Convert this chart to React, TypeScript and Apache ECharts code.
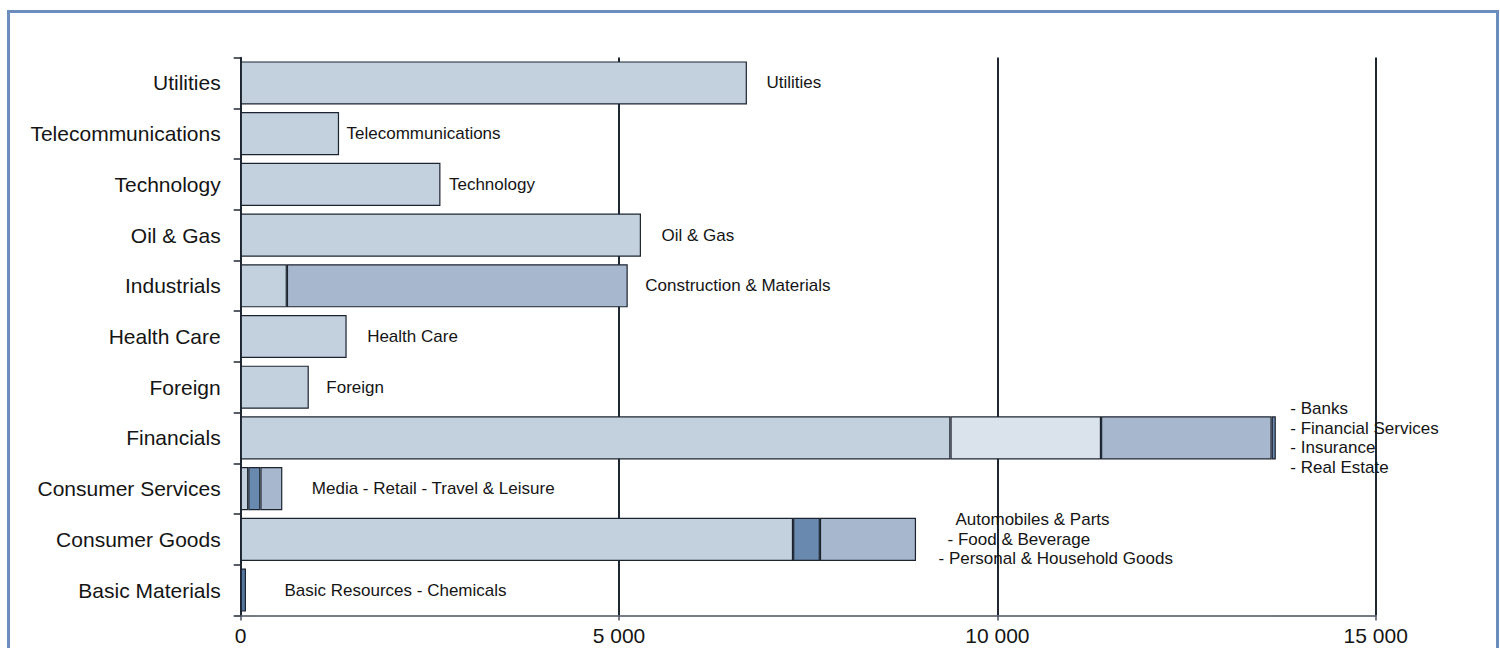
import React, { useEffect, useRef } from "react";
import * as echarts from "echarts";

// Categories, bottom to top (ECharts category y axis runs upward)
const categories = [
  "Basic Materials",
  "Consumer Goods",
  "Consumer Services",
  "Financials",
  "Foreign",
  "Health Care",
  "Industrials",
  "Oil & Gas",
  "Technology",
  "Telecommunications",
  "Utilities",
];

// Stacked segment values (left to right within each bar)
const segment1 = [70, 7300, 100, 9380, 900, 1400, 610, 5290, 2640, 1300, 6690];
const segment2 = [null, 355, 160, 1990, null, null, 4505, null, null, null, null];
const segment3 = [null, 1270, 290, 2255, null, null, null, null, null, null, null];
const segment4 = [null, null, null, 55, null, null, null, null, null, null, null];

// Sub-sector annotations shown to the right of each bar
const subSectorNotes = [
  "Basic Resources - Chemicals",
  "Automobiles & Parts\n- Food & Beverage\n- Personal & Household Goods",
  "Media - Retail - Travel & Leisure",
  "- Banks\n- Financial Services\n- Insurance\n- Real Estate",
  "Foreign",
  "Health Care",
  "Construction & Materials",
  "Oil & Gas",
  "Technology",
  "Telecommunications",
  "Utilities",
];

const xTicks = [0, 5000, 10000, 15000];

// ---- styles ----
const FONT = "'Liberation Sans', Arial, Helvetica, sans-serif";
const TEXT = "#151515";
const EDGE = "#1c2430";
const SHADES: Record<string, string> = {
  light: "#c3d1df",
  pale: "#dae2eb",
  medium: "#a7b8ce",
  dark: "#6a89ae",
  deep: "#56779f",
};
const noteGap = [38, 22, 29, 14, 17, 20, 17, 20, 8, 7, 19];
const noteDy = [1, 0, 0, -1, -4, 1, 1, 1, -2, -2, 0];

function shadeFor(seg: number, cat: string): string {
  if (seg === 0) return cat === "Basic Materials" ? SHADES.deep : SHADES.light;
  if (seg === 1) {
    if (cat === "Financials") return SHADES.pale;
    if (cat === "Industrials") return SHADES.medium;
    return SHADES.dark;
  }
  if (seg === 2) return SHADES.medium;
  return SHADES.dark;
}

const fmtThousands = (v: number) =>
  String(Math.round(v)).replace(/\B(?=(\d{3})+(?!\d))/g, " ");

export default function App() {
  const ref = useRef<HTMLDivElement>(null);

  useEffect(() => {
    if (!ref.current) return;
    const chart = echarts.init(ref.current, null, { renderer: "svg" });

    const segments = [segment1, segment2, segment3, segment4];
    const barSeries = segments.map((seg, si) => ({
      type: "bar",
      name: "seg" + (si + 1),
      stack: "total",
      barCategoryGap: "15%",
      data: seg.map((v, ci) =>
        v == null
          ? "-"
          : {
              value: v,
              itemStyle: {
                color: shadeFor(si, categories[ci]),
                borderColor: EDGE,
                borderWidth: 1.2,
              },
            }
      ),
      z: 3,
    }));

    const totals = categories.map((_, i) =>
      segments.reduce((s, seg) => s + (seg[i] ?? 0), 0)
    );

    const textStyle = { fontSize: 17, fontFamily: FONT, color: TEXT, lineHeight: 19.5, opacity: 1 };

    const noteData = categories.map((cat, i) => {
      const note = subSectorNotes[i];
      const label: any = {
        show: true,
        position: "right",
        distance: noteGap[i],
        offset: [0, noteDy[i]],
        ...textStyle,
      };
      if (cat === "Consumer Goods") {
        const lines = note.split("\n");
        label.formatter = `{a|${lines[0]}}\n{b|${lines[1]}}\n{c|${lines[2]}}`;
        label.rich = {
          a: { ...textStyle, padding: [0, 0, 0, 17] },
          b: { ...textStyle, padding: [0, 0, 0, 9] },
          c: { ...textStyle },
        };
      } else {
        label.formatter = note;
      }
      return { value: [totals[i], i], label };
    });

    chart.setOption({
      animation: false,
      grid: { left: 240.7, right: 124.3, top: 57.6, bottom: 32.6, containLabel: false },
      xAxis: {
        type: "value",
        min: xTicks[0],
        max: xTicks[xTicks.length - 1],
        interval: xTicks[1] - xTicks[0],
        axisLine: { show: true, lineStyle: { color: "#4a5260", width: 1.5 } },
        axisTick: { show: true, length: 5, lineStyle: { color: "#4a5260", width: 1.5 } },
        splitLine: { show: true, lineStyle: { color: "#1f2733", width: 2 } },
        axisLabel: {
          fontSize: 21,
          fontFamily: FONT,
          color: TEXT,
          margin: 10,
          formatter: (v: number) => fmtThousands(v),
        },
      },
      yAxis: {
        type: "category",
        data: categories,
        axisLine: { show: true, lineStyle: { color: "#1f2733", width: 1.5 } },
        axisTick: { show: true, length: 7, lineStyle: { color: "#1f2733", width: 1.5 } },
        axisLabel: { fontSize: 21, fontFamily: FONT, color: TEXT, margin: 20 },
        splitLine: { show: false },
      },
      series: [
        ...barSeries,
        {
          type: "scatter",
          name: "notes",
          symbol: "rect",
          symbolSize: 1,
          itemStyle: { color: "#ffffff", opacity: 1, borderWidth: 0 },
          label: { show: true, align: "left", verticalAlign: "middle", ...textStyle },
          labelLayout: { hideOverlap: false },
          data: noteData,
          z: 2,
          silent: true,
        },
      ],
    });

    return () => chart.dispose();
  }, []);

  return (
    <div style={{ position: "fixed", left: 0, top: 0, width: 1500, height: 648, background: "#fff", overflow: "hidden" }}>
      <div ref={ref} style={{ position: "absolute", left: 0, top: 0, width: 1500, height: 648 }} />
      <div
        style={{
          position: "absolute",
          left: 7,
          top: 10,
          width: 1492,
          height: 700,
          boxSizing: "border-box",
          border: "3px solid #6c8dbd",
          pointerEvents: "none",
        }}
      />
    </div>
  );
}
